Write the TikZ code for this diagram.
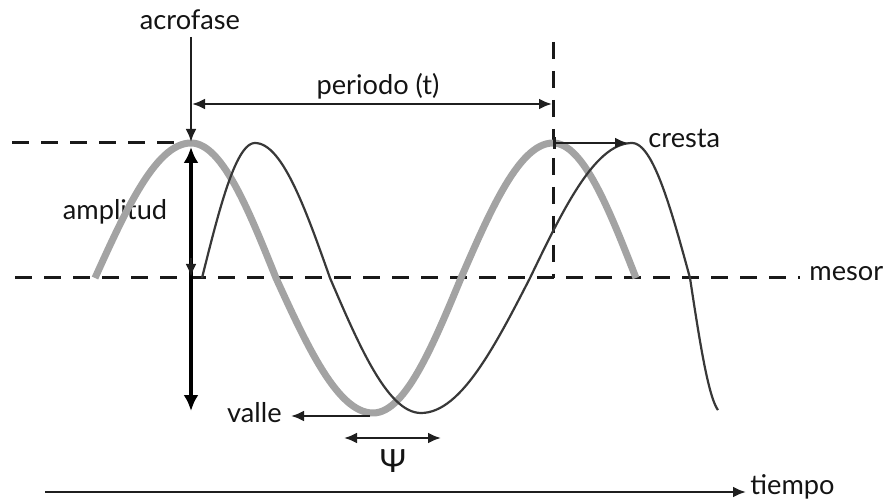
\documentclass[tikz,border=0pt]{standalone}
\usepackage{fontspec}
\setmainfont{Lato}
\usetikzlibrary{arrows.meta}
\begin{document}
\begin{tikzpicture}[x=0.5pt,y=-0.5pt,
  lbl/.style={font=\fontsize{13.6}{15}\selectfont, inner sep=0pt, text=black!92},
  dashline/.style={line width=1.5pt, dash pattern=on 8.5pt off 6pt, black!90},
  thinarrow/.style={line width=1.3pt, black!88, -{Latex[length=6.5pt,width=5.5pt]}},
  dblarrow/.style={line width=1.3pt, black!88, {Latex[length=6.5pt,width=5.5pt]}-{Latex[length=6.5pt,width=5.5pt]}},
  bigarrow/.style={line width=2pt, black, {Latex[length=8pt,width=7.5pt]}-{Latex[length=8pt,width=7.5pt]}},
  greywave/.style={line width=3.5pt, gray!72, line join=round},
  blackwave/.style={line width=1.1pt, black!78, line join=round},
  smp/.style={samples=30}
]
\useasboundingbox (0,0) rectangle (889,502);

% key coordinates
\coordinate (acroTop) at (191,37);
\coordinate (peak1) at (191,142);
\coordinate (perL) at (192,104);
\coordinate (perR) at (552,104);
\coordinate (vdTop) at (553,42);
\coordinate (vdBot) at (553,278);
\coordinate (crestL) at (553,143);
\coordinate (crestR) at (628,143);
\coordinate (topdashL) at (12,143);
\coordinate (topdashR) at (188,143);
\coordinate (mesL) at (15,278);
\coordinate (mesR) at (800,278);
\coordinate (ampTop) at (191,147);
\coordinate (ampBot) at (191,411);
\coordinate (ampMidA) at (191,258);
\coordinate (ampMidB) at (191,277);
\coordinate (valleR) at (370,416);
\coordinate (valleL) at (291,416);
\coordinate (psiL) at (344,438);
\coordinate (psiR) at (441,438);
\coordinate (timeL) at (45,492);
\coordinate (timeR) at (746,492);

% labels
\node[lbl] (acro) at (190,20) {acrofase};
\node[lbl] (per) at (378,86) {periodo (t)};
\node[lbl, anchor=west] (cresta) at (648,138) {cresta};
\node[lbl] (amp) at (115,212) {amplitud};
\node[lbl, anchor=west] (mesor) at (809,274) {mesor};
\node[lbl, anchor=east] (valle) at (282,413) {valle};
\node[lbl, font=\fontsize{16}{17}\selectfont] (psi) at (393,461) {Ψ};
\node[lbl, anchor=west] (tiempo) at (750,487) {tiempo};

% dashed reference lines
\draw[dashline] (topdashL) -- (topdashR);
\draw[dashline] (mesL) -- (mesR);
\draw[dashline] (vdTop) -- (vdBot);

% waves
\draw[greywave]
  plot[smp,domain=95:191] (\x,{278-135*cos((\x-191)*90/96)})
  -- plot[smp,domain=191:276] (\x,{278-135*cos((\x-191)*90/85)})
  -- plot[smp,domain=276:373] (\x,{278-135*cos(90+(\x-276)*90/97)})
  -- plot[smp,domain=373:461] (\x,{278-135*cos(180+(\x-373)*90/88)})
  -- plot[smp,domain=461:553] (\x,{278-135*cos(270+(\x-461)*90/92)})
  -- plot[smp,domain=553:636] (\x,{278-135*cos((\x-553)*90/83)});
\draw[blackwave]
  plot[smp,domain=202:255] (\x,{278-135*cos((\x-255)*90/53)})
  -- plot[smp,domain=255:330] (\x,{278-135*cos((\x-255)*90/75)})
  -- plot[smp,domain=330:421] (\x,{278-135*cos(90+(\x-330)*90/91)})
  -- plot[smp,domain=421:530] (\x,{278-135*cos(180+(\x-421)*90/109)})
  -- plot[smp,domain=530:632] (\x,{278-135*cos(270+(\x-530)*90/102)})
  -- plot[smp,domain=632:690] (\x,{278-135*cos((\x-632)*90/58)})
  -- plot[smp,domain=690:718] (\x,{278-135*cos(90+(\x-690)*78/28)});

% arrows
\draw[thinarrow] (acroTop) -- (peak1);
\draw[dblarrow] (perL) -- (perR);
\draw[line width=1.3pt, black!88, {Bar[width=6pt]}-{Latex[length=6.5pt,width=5.5pt]}] (crestL) -- (crestR);
\draw[bigarrow] (ampTop) -- (ampBot);
\draw[thinarrow] (ampMidA) -- (ampMidB);
\draw[thinarrow] (valleR) -- (valleL);
\draw[dblarrow] (psiL) -- (psiR);
\draw[thinarrow] (timeL) -- (timeR);
\end{tikzpicture}
\end{document}
